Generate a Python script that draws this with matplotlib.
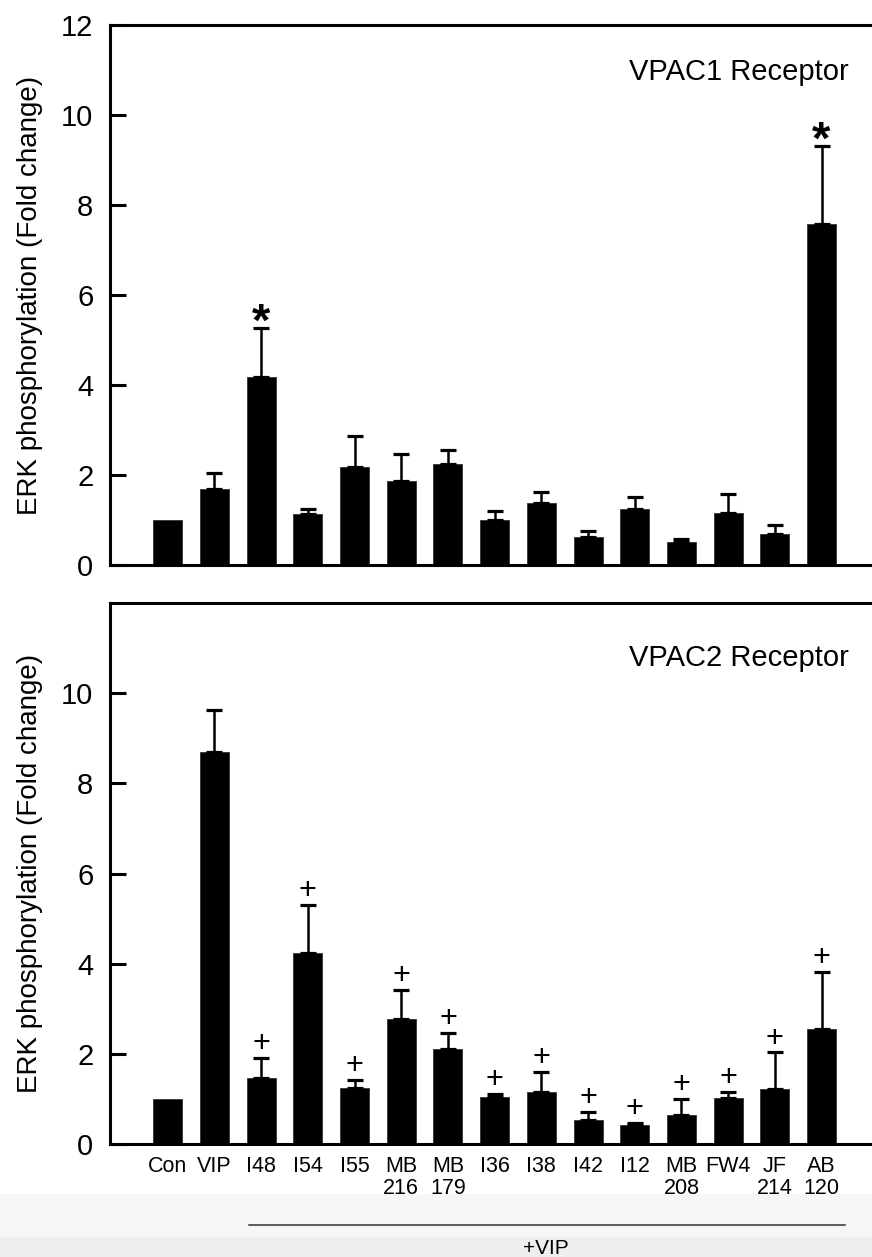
import numpy as np
import matplotlib
matplotlib.use("Agg")
import matplotlib.pyplot as plt
from matplotlib.patches import Rectangle
from matplotlib.lines import Line2D

plt.rcParams['font.family'] = ['Liberation Sans', 'DejaVu Sans']

# Datos
etiquetas = ['Con', 'VIP', 'I48', 'I54', 'I55', 'MB\n216', 'MB\n179', 'I36', 'I38',
             'I42', 'I12', 'MB\n208', 'FW4', 'JF\n214', 'AB\n120']

vpac1_media = [1.0, 1.69, 4.17, 1.13, 2.18, 1.87, 2.24, 1.01, 1.37, 0.62, 1.24, 0.51, 1.15, 0.70, 7.58]
vpac1_error = [0.0, 0.35, 1.09, 0.12, 0.69, 0.60, 0.32, 0.18, 0.25, 0.14, 0.27, 0.06, 0.42, 0.20, 1.72]
vpac1_sig = [2, 14]  # barras con *

vpac2_media = [1.0, 8.70, 1.47, 4.23, 1.24, 2.77, 2.11, 1.05, 1.15, 0.53, 0.42, 0.64, 1.01, 1.22, 2.56]
vpac2_error = [0.0, 0.92, 0.43, 1.07, 0.18, 0.65, 0.36, 0.06, 0.44, 0.17, 0.05, 0.35, 0.15, 0.81, 1.25]
vpac2_sig = [2, 3, 4, 5, 6, 7, 8, 9, 10, 11, 12, 13, 14]  # barras con +

W, H = 872, 1257
fig = plt.figure(figsize=(W / 100, H / 100), dpi=100)

# franja gris al pie de la imagen
fig.add_artist(Rectangle((0, 0), 1, 1 - 1194 / H, transform=fig.transFigure,
                         facecolor='#f6f6f6', edgecolor='none', zorder=0))
fig.add_artist(Rectangle((0, 0), 1, 1 - 1237 / H, transform=fig.transFigure,
                         facecolor='#efefef', edgecolor='none', zorder=0))


def panel(top_px, bottom_px, media, error, sig, marca, titulo, titulo_px, yticks, xlabels):
    ax = fig.add_axes([110 / W, 1 - bottom_px / H, 1 - 110 / W, (bottom_px - top_px) / H])
    ax.set_facecolor('white')
    x = np.arange(len(media))
    ax.bar(x, media, width=0.62, color='black', edgecolor='#333333', linewidth=0.6, zorder=2)
    idx = [i for i in x if error[i] > 0]
    ax.errorbar(x[idx], np.array(media)[idx],
                yerr=[np.zeros(len(idx)), np.array(error)[idx]],
                fmt='none', ecolor='black', elinewidth=1.8, capsize=6.1, capthick=2.3, zorder=3)
    for i in sig:
        y = media[i] + error[i] + 0.31
        if marca == '*':
            ax.text(x[i], y - 0.2, '*', ha='center', va='center', fontsize=34,
                    fontweight='bold', zorder=4)
        else:
            ax.text(x[i], y, '+', ha='center', va='center', fontsize=22, zorder=4)
    ax.set_xlim(-1.236, 15.08)
    ax.set_ylim(0, 12)
    ax.set_yticks(yticks)
    ax.tick_params(axis='y', direction='in', length=11.5, width=2.2, pad=12, labelsize=21)
    if xlabels:
        ax.set_xticks(x)
        ax.set_xticklabels(etiquetas, fontsize=15.5, linespacing=1.0)
        ax.tick_params(axis='x', length=0, pad=9)
    else:
        ax.set_xticks([])
    for s in ['left', 'top', 'bottom']:
        ax.spines[s].set_linewidth(2.2)
    ax.spines['right'].set_visible(False)
    ax.text(0.97, 1 - titulo_px / (bottom_px - top_px), titulo, transform=ax.transAxes,
            ha='right', va='center', fontsize=21)
    fig.text(30 / W, 1 - (top_px + bottom_px) / 2 / H, 'ERK phosphorylation (Fold change)',
             rotation=90, ha='center', va='center', fontsize=20)
    return ax


panel(25, 565, vpac1_media, vpac1_error, vpac1_sig, '*', 'VPAC1 Receptor', 47,
      [0, 2, 4, 6, 8, 10, 12], False)
panel(603, 1144, vpac2_media, vpac2_error, vpac2_sig, '+', 'VPAC2 Receptor', 55,
      [0, 2, 4, 6, 8, 10], True)

# linea de +VIP
fig.add_artist(Line2D([249 / W, 845 / W], [1 - 1225 / H, 1 - 1225 / H],
                      transform=fig.transFigure, color='#333333', linewidth=1.1))
fig.text(546 / W, 1 - 1249 / H, '+VIP', ha='center', va='center', fontsize=15)

fig.savefig('out.png', dpi=100)
